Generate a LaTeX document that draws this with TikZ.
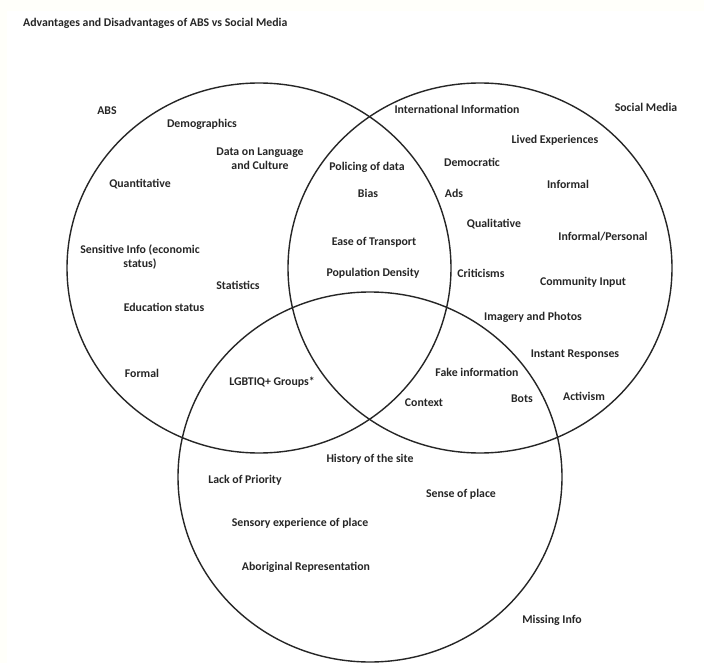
\documentclass[tikz,border=0pt]{standalone}
\usepackage{fontspec}
\setmainfont{Carlito}
\colorlet{background}{white}
\colorlet{frameColor}{black!3!yellow!2!white}
\colorlet{penColor}{black!85}
\tikzset{lbl/.style={font=\bfseries\fontsize{11.8}{14}\selectfont, text=penColor, inner sep=0pt, align=center}}

\begin{document}
\begin{tikzpicture}[x=1pt,y=-1pt]
\fill[frameColor] (0,0) rectangle (704,663);
\fill[background] (7,11) rectangle (704,663);
\useasboundingbox (0,0) rectangle (704,663);
\draw[penColor,line width=1.4pt] (259,268) ellipse (192 and 185);% ABS
\draw[penColor,line width=1.4pt] (480,268) ellipse (192 and 185);% social media
\draw[penColor,line width=1.4pt] (370,477) ellipse (192 and 185);% missing info
\node[lbl, anchor=west] (title) at (23,23) {Advantages and Disadvantages of ABS vs Social Media};
\node[lbl] (abs) at (107,111) {ABS};
\node[lbl] (sm) at (646,107) {Social Media};
\node[lbl] (mi) at (552,620) {Missing Info};
% ABS only
\node[lbl] (demo) at (202,124) {Demographics};
\node[lbl] (lang) at (260,159) {Data on Language\\and Culture};
\node[lbl] (quant) at (140,184) {Quantitative};
\node[lbl] (sens) at (140,257) {Sensitive Info (economic\\status)};
\node[lbl] (stat) at (238,285) {Statistics};
\node[lbl] (edu) at (164,307) {Education status};
\node[lbl] (formal) at (142,373) {Formal};
\node[lbl] (lgbt) at (272,382) {LGBTIQ+ Groups*};
% ABS and social media
\node[lbl] (police) at (367,167) {Policing of data};
\node[lbl] (bias) at (368,193) {Bias};
\node[lbl] (ease) at (374,242) {Ease of Transport};
\node[lbl] (pop) at (373,273) {Population Density};
% social media only
\node[lbl] (intl) at (457,109) {International Information};
\node[lbl] (lived) at (555,140) {Lived Experiences};
\node[lbl] (demc) at (472,162) {Democratic};
\node[lbl] (inf) at (568,184) {Informal};
\node[lbl] (ads) at (454,193) {Ads};
\node[lbl] (qual) at (494,224) {Qualitative};
\node[lbl] (infp) at (603,237) {Informal/Personal};
\node[lbl] (crit) at (481,273) {Criticisms};
\node[lbl] (comm) at (583,282) {Community Input};
\node[lbl] (img) at (533,317) {Imagery and Photos};
\node[lbl] (inst) at (575,355) {Instant Responses};
\node[lbl] (fake) at (477,372) {Fake information};
\node[lbl] (bots) at (522,399) {Bots};
\node[lbl] (act) at (584,396) {Activism};
\node[lbl] (ctx) at (424,403) {Context};
% missing
\node[lbl] (hist) at (370,459) {History of the site};
\node[lbl] (lack) at (245,480) {Lack of Priority};
\node[lbl] (place) at (461,494) {Sense of place};
\node[lbl] (senso) at (300,523) {Sensory experience of place};
\node[lbl] (abor) at (306,567) {Aboriginal Representation};
\end{tikzpicture}
\end{document}
